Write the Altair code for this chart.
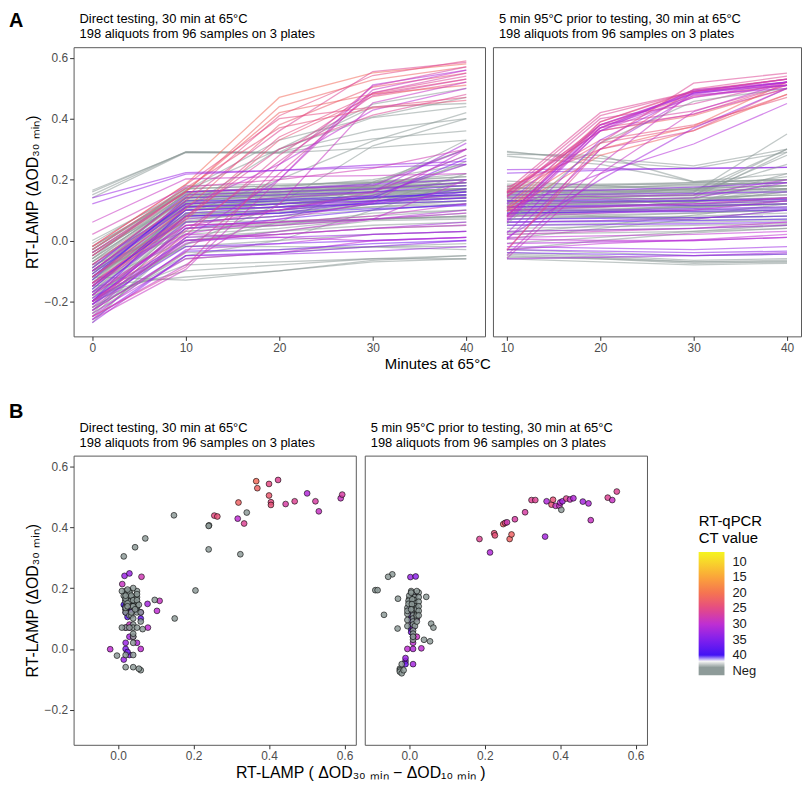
import altair as alt
import pandas as pd

N = "Neg"

MINUTES_DIRECT = [0, 10, 20, 30, 40]
MINUTES_HEAT = [10, 20, 30, 40]

PANEL_TITLES = [
    ["Direct testing, 30 min at 65°C", "198 aliquots from 96 samples on 3 plates"],
    ["5 min 95°C prior to testing, 30 min at 65°C", "198 aliquots from 96 samples on 3 plates"],
]
Y_TITLE = "RT-LAMP (ΔOD₃₀ ₘᵢₙ)"
XA_TITLE = "Minutes at 65°C"
XB_TITLE = "RT-LAMP ( ΔOD₃₀ ₘᵢₙ − ΔOD₁₀ ₘᵢₙ )"
LEGEND_TITLE = ["RT-qPCR", "CT value"]
LEGEND_VALUES = [10, 15, 20, 25, 30, 35, 40, 45]
NEG_CT = 45
Y_TICKS = [-0.2, 0.0, 0.2, 0.4, 0.6]
XB_TICKS = [0.0, 0.2, 0.4, 0.6]

# ---- Direct testing: [CT, OD at 0, 10, 20, 30, 40 min] ----
DIRECT_POS = [
    [21, -0.02, 0.185, 0.47, 0.551, 0.58],
    [22, -0.05, 0.159, 0.44, 0.528, 0.57],
    [25, -0.08, 0.142, 0.41, 0.542, 0.59],
    [26, -0.10, 0.131, 0.36, 0.555, 0.585],
    [23, -0.12, 0.104, 0.38, 0.504, 0.55],
    [25, -0.14, 0.077, 0.34, 0.482, 0.53],
    [24, -0.15, 0.068, 0.33, 0.473, 0.52],
    [22, -0.04, 0.162, 0.42, 0.481, 0.51],
    [27, -0.18, 0.032, 0.26, 0.476, 0.53],
    [26, -0.20, 0.017, 0.28, 0.485, 0.54],
    [31, -0.21, 0.010, 0.20, 0.511, 0.56],
    [27, -0.23, -0.038, 0.22, 0.485, 0.55],
    [29, -0.25, -0.080, 0.12, 0.452, 0.52],
    [29, -0.26, -0.095, 0.20, 0.495, 0.56],
    [27, -0.25, -0.087, 0.25, 0.507, 0.57],
    [30, -0.10, 0.111, 0.25, 0.428, 0.50],
    [26, -0.12, 0.078, 0.30, 0.412, 0.48],
    [25, -0.02, 0.183, 0.40, 0.438, 0.47],
    [24, -0.03, 0.172, 0.37, 0.435, 0.46],
    [29, -0.15, 0.048, 0.10, 0.158, 0.28],
    [30, -0.17, 0.022, 0.07, 0.125, 0.30],
    [30, -0.20, -0.009, 0.03, 0.070, 0.20],
    [30, -0.18, 0.020, 0.01, -0.001, 0.01],
    [33, 0.14, 0.223, 0.23, 0.240, 0.25],
    [33, 0.12, 0.218, 0.23, 0.248, 0.26],
    [28, 0.02, 0.175, 0.20, 0.237, 0.30],
    [29, 0.06, 0.202, 0.21, 0.213, 0.22],
]
DIRECT_OUT = [
    [N, -0.10, 0.107, 0.30, 0.448, 0.50],
    [N, -0.03, 0.165, 0.33, 0.406, 0.47],
    [N, -0.05, 0.164, 0.30, 0.404, 0.44],
    [N, -0.12, 0.087, 0.20, 0.327, 0.42],
    [N, -0.20, -0.013, 0.12, 0.311, 0.40],
    [N, 0.16, 0.291, 0.290, 0.439, 0.45],
    [N, 0.15, 0.291, 0.290, 0.363, 0.40],
    [N, 0.165, 0.289, 0.288, 0.334, 0.36],
    [N, 0.14, 0.289, 0.287, 0.304, 0.33],
    [N, -0.20, -0.013, 0.06, 0.192, 0.30],
    [N, -0.22, -0.050, 0.00, 0.100, 0.20],
    [N, -0.12, 0.064, 0.10, 0.161, 0.25],
    [N, -0.20, -0.019, -0.02, -0.022, -0.03],
]
DIRECT_CLUSTER = [
    [N, -0.05, 0.15, 0.16, 0.18, 0.20],
    [N, -0.08, 0.14, 0.155, 0.17, 0.19],
    [N, -0.10, 0.13, 0.15, 0.17, 0.18],
    [N, -0.12, 0.12, 0.14, 0.16, 0.17],
    [N, -0.02, 0.16, 0.17, 0.19, 0.21],
    [N, -0.15, 0.11, 0.13, 0.15, 0.16],
    [N, -0.18, 0.10, 0.12, 0.14, 0.15],
    [N, -0.06, 0.14, 0.16, 0.19, 0.22],
    [N, -0.09, 0.13, 0.145, 0.16, 0.17],
    [N, -0.11, 0.12, 0.13, 0.14, 0.15],
    [N, -0.13, 0.11, 0.12, 0.13, 0.14],
    [N, -0.04, 0.15, 0.16, 0.17, 0.18],
    [N, -0.07, 0.14, 0.15, 0.16, 0.17],
    [N, -0.16, 0.10, 0.11, 0.12, 0.13],
    [N, -0.20, 0.08, 0.10, 0.13, 0.15],
    [N, -0.01, 0.17, 0.18, 0.19, 0.20],
    [N, -0.03, 0.16, 0.175, 0.20, 0.25],
    [N, -0.10, 0.12, 0.14, 0.17, 0.19],
    [N, -0.14, 0.10, 0.12, 0.15, 0.17],
    [N, -0.17, 0.09, 0.11, 0.14, 0.16],
    [N, -0.22, 0.07, 0.09, 0.12, 0.14],
    [N, -0.19, 0.08, 0.095, 0.11, 0.12],
    [N, -0.12, 0.115, 0.125, 0.135, 0.145],
    [N, -0.08, 0.135, 0.145, 0.155, 0.165],
    [N, 0.00, 0.16, 0.17, 0.18, 0.19],
    [N, -0.05, 0.145, 0.16, 0.175, 0.19],
    [N, -0.11, 0.125, 0.14, 0.155, 0.17],
    [N, -0.15, 0.105, 0.12, 0.14, 0.17],
    [N, -0.21, 0.075, 0.09, 0.11, 0.13],
    [N, -0.24, 0.06, 0.08, 0.10, 0.12],
    [N, -0.02, 0.155, 0.165, 0.185, 0.30],
    [N, -0.06, 0.14, 0.155, 0.175, 0.33],
    [N, -0.09, 0.12, 0.135, 0.16, 0.28],
    [N, -0.13, 0.10, 0.12, 0.14, 0.26],
    [N, -0.18, 0.085, 0.10, 0.12, 0.22],
    [N, -0.25, 0.04, 0.06, 0.08, 0.10],
    [N, -0.27, 0.03, 0.05, 0.07, 0.09],
    [N, -0.23, 0.05, 0.06, 0.07, 0.08],
    [N, -0.20, 0.06, 0.065, 0.07, 0.075],
    [N, -0.12, -0.13, -0.10, -0.07, -0.06],
    [N, -0.15, -0.12, -0.10, -0.065, -0.05],
    [N, -0.18, -0.10, -0.08, -0.06, -0.05],
    [N, -0.20, -0.08, -0.07, -0.06, -0.06],
    [N, -0.22, -0.06, -0.04, -0.02, -0.01],
    [N, -0.24, -0.04, -0.03, -0.02, -0.02],
    [N, -0.17, -0.02, 0.00, 0.02, 0.03],
    [N, -0.14, 0.00, 0.02, 0.04, 0.05],
    [N, -0.10, 0.02, 0.04, 0.07, 0.08],
    [N, -0.26, 0.01, 0.03, 0.05, 0.06],
    [N, -0.19, 0.04, 0.055, 0.07, 0.08],
    [N, -0.07, 0.11, 0.13, 0.16, 0.17],
    [N, -0.04, 0.13, 0.15, 0.18, 0.20],
    [N, -0.16, 0.09, 0.11, 0.145, 0.16],
    [N, -0.13, 0.085, 0.10, 0.13, 0.14],
    [N, -0.10, 0.06, 0.08, 0.12, 0.13],
    [N, -0.08, 0.03, 0.05, 0.09, 0.10],
    [N, -0.21, 0.00, 0.03, 0.065, 0.07],
    [N, -0.11, 0.16, 0.17, 0.175, 0.18],
    [N, -0.03, 0.17, 0.18, 0.195, 0.21],
    [N, -0.06, 0.18, 0.185, 0.19, 0.20],
    [N, -0.09, 0.145, 0.15, 0.165, 0.18],
    [N, -0.14, 0.125, 0.13, 0.15, 0.16],
    [N, -0.07, 0.155, 0.16, 0.175, 0.19],
    [N, -0.17, 0.115, 0.12, 0.14, 0.15],
    [33, -0.12, 0.10, 0.11, 0.13, 0.15],
    [35, -0.15, 0.09, 0.10, 0.125, 0.14],
    [36, -0.18, 0.08, 0.09, 0.128, 0.17],
    [37, -0.20, 0.04, 0.07, 0.10, 0.12],
    [34, -0.17, 0.06, 0.08, 0.12, 0.16],
    [32, -0.14, 0.07, 0.10, 0.148, 0.25],
    [31, -0.21, 0.05, 0.06, 0.07, 0.10],
    [30, -0.20, 0.04, 0.05, 0.07, 0.09],
    [32, -0.23, 0.01, 0.02, 0.04, 0.06],
    [29, -0.22, 0.00, 0.02, 0.04, 0.05],
    [31, -0.25, -0.03, -0.01, 0.02, 0.03],
    [30, -0.24, -0.06, -0.04, 0.00, 0.01],
    [34, -0.26, -0.05, -0.04, -0.02, 0.00],
    [33, -0.27, -0.05, -0.045, -0.035, -0.02],
    [35, -0.21, -0.02, -0.01, 0.00, 0.01],
    [36, -0.23, -0.035, -0.03, -0.01, 0.00],
    [33, -0.19, 0.00, 0.01, 0.02, 0.03],
    [37, -0.16, 0.10, 0.11, 0.12, 0.13],
    [38, -0.10, 0.12, 0.13, 0.14, 0.16],
    [36, -0.13, 0.14, 0.15, 0.16, 0.18],
    [34, -0.09, 0.15, 0.16, 0.17, 0.19],
    [31, -0.05, 0.16, 0.17, 0.18, 0.30],
    [32, -0.08, 0.12, 0.14, 0.16, 0.32],
    [35, -0.11, 0.11, 0.12, 0.14, 0.27],
    [29, -0.14, 0.05, 0.06, 0.08, 0.12],
    [36, -0.20, 0.11, 0.12, 0.13, 0.14],
    [39, -0.12, 0.13, 0.135, 0.145, 0.15],
    [38, -0.15, 0.08, 0.09, 0.105, 0.115],
    [34, -0.04, 0.16, 0.17, 0.185, 0.20],
]

# ---- 5 min 95°C first: [CT, OD at 10, 20, 30, 40 min] ----
HEAT_POS = [
    [26, 0.175, 0.30, 0.361, 0.50],
    [31, 0.103, 0.22, 0.317, 0.45],
    [24, 0.155, 0.33, 0.380, 0.47],
    [24, 0.146, 0.32, 0.373, 0.48],
    [22, 0.161, 0.36, 0.410, 0.50],
    [25, 0.160, 0.37, 0.414, 0.51],
    [28, 0.157, 0.36, 0.416, 0.50],
    [22, 0.095, 0.28, 0.361, 0.48],
    [22, 0.105, 0.30, 0.376, 0.52],
    [27, 0.146, 0.38, 0.426, 0.51],
    [27, 0.142, 0.40, 0.449, 0.52],
    [26, 0.165, 0.42, 0.489, 0.53],
    [26, 0.155, 0.41, 0.489, 0.52],
    [32, 0.009, 0.20, 0.369, 0.50],
    [31, 0.121, 0.38, 0.485, 0.52],
    [24, 0.097, 0.38, 0.474, 0.51],
    [24, 0.109, 0.39, 0.490, 0.53],
    [29, 0.082, 0.37, 0.470, 0.51],
    [29, 0.072, 0.36, 0.470, 0.52],
    [30, 0.081, 0.38, 0.481, 0.52],
    [N, 0.054, 0.32, 0.457, 0.50],
    [32, 0.079, 0.37, 0.485, 0.52],
    [26, 0.078, 0.39, 0.494, 0.53],
    [29, 0.065, 0.37, 0.491, 0.51],
    [31, 0.060, 0.36, 0.495, 0.52],
    [32, 0.024, 0.33, 0.484, 0.51],
    [31, 0.003, 0.30, 0.478, 0.50],
    [29, -0.058, 0.22, 0.423, 0.52],
    [26, -0.029, 0.30, 0.497, 0.54],
    [29, -0.049, 0.25, 0.489, 0.53],
    [26, -0.033, 0.32, 0.517, 0.55],
]
HEAT_OUT = [
    [N, 0.283, 0.28, 0.193, 0.20],
    [N, 0.277, 0.25, 0.193, 0.22],
    [N, 0.290, 0.27, 0.245, 0.30],
    [N, 0.293, 0.26, 0.237, 0.29],
    [N, 0.179, 0.14, 0.112, 0.12],
    [N, 0.098, 0.08, 0.067, 0.07],
    [N, 0.195, 0.18, 0.165, 0.17],
    [33, 0.233, 0.235, 0.236, 0.24],
    [34, 0.221, 0.23, 0.238, 0.24],
    [N, 0.126, 0.15, 0.171, 0.20],
    [N, 0.025, 0.05, 0.083, 0.12],
    [N, 0.006, 0.04, 0.070, 0.10],
    [N, -0.009, 0.01, 0.030, 0.05],
    [N, -0.030, 0.00, 0.025, 0.04],
    [30, -0.030, -0.01, 0.002, 0.02],
    [30, 0.005, 0.00, 0.000, 0.01],
]
HEAT_CLUSTER = [
    [N, 0.15, 0.155, 0.16, 0.17],
    [N, 0.14, 0.145, 0.15, 0.16],
    [N, 0.13, 0.135, 0.14, 0.15],
    [N, 0.12, 0.125, 0.13, 0.14],
    [N, 0.11, 0.115, 0.12, 0.13],
    [N, 0.10, 0.105, 0.11, 0.12],
    [N, 0.09, 0.095, 0.10, 0.11],
    [N, 0.08, 0.085, 0.09, 0.10],
    [N, 0.07, 0.075, 0.08, 0.09],
    [N, 0.16, 0.165, 0.17, 0.18],
    [N, 0.17, 0.175, 0.18, 0.19],
    [N, 0.155, 0.16, 0.17, 0.21],
    [N, 0.145, 0.15, 0.16, 0.25],
    [N, 0.135, 0.14, 0.15, 0.30],
    [N, 0.125, 0.13, 0.14, 0.29],
    [N, 0.115, 0.12, 0.135, 0.22],
    [N, 0.105, 0.11, 0.125, 0.16],
    [N, 0.095, 0.10, 0.115, 0.14],
    [N, 0.085, 0.09, 0.105, 0.13],
    [N, 0.06, 0.065, 0.075, 0.08],
    [N, 0.05, 0.055, 0.06, 0.065],
    [N, 0.04, 0.045, 0.05, 0.055],
    [N, 0.165, 0.165, 0.165, 0.17],
    [N, 0.175, 0.175, 0.175, 0.18],
    [N, 0.185, 0.185, 0.19, 0.20],
    [N, 0.14, 0.14, 0.135, 0.14],
    [N, 0.12, 0.12, 0.115, 0.12],
    [N, 0.10, 0.10, 0.095, 0.10],
    [N, 0.08, 0.078, 0.075, 0.08],
    [N, 0.13, 0.128, 0.125, 0.20],
    [N, 0.16, 0.16, 0.158, 0.35],
    [N, 0.15, 0.15, 0.148, 0.28],
    [N, 0.11, 0.12, 0.13, 0.17],
    [N, 0.09, 0.10, 0.11, 0.13],
    [N, 0.07, 0.08, 0.09, 0.10],
    [N, -0.04, -0.05, -0.065, -0.06],
    [N, -0.045, -0.055, -0.07, -0.065],
    [N, -0.05, -0.06, -0.075, -0.07],
    [N, -0.06, -0.07, -0.08, -0.075],
    [N, -0.055, -0.06, -0.07, -0.07],
    [N, -0.03, -0.04, -0.05, -0.045],
    [N, 0.02, 0.025, 0.03, 0.04],
    [N, 0.03, 0.035, 0.04, 0.05],
    [N, 0.16, 0.17, 0.185, 0.19],
    [N, 0.145, 0.155, 0.17, 0.18],
    [N, 0.13, 0.14, 0.155, 0.165],
    [N, 0.115, 0.125, 0.14, 0.15],
    [N, 0.10, 0.11, 0.125, 0.135],
    [N, 0.085, 0.095, 0.11, 0.12],
    [N, 0.17, 0.18, 0.19, 0.20],
    [N, 0.18, 0.183, 0.185, 0.19],
    [N, 0.155, 0.16, 0.163, 0.30],
    [N, 0.14, 0.143, 0.147, 0.18],
    [N, 0.125, 0.128, 0.13, 0.16],
    [33, 0.12, 0.125, 0.13, 0.14],
    [34, 0.11, 0.115, 0.12, 0.13],
    [35, 0.10, 0.10, 0.105, 0.11],
    [36, 0.09, 0.095, 0.10, 0.105],
    [37, 0.07, 0.073, 0.075, 0.08],
    [38, 0.06, 0.062, 0.065, 0.07],
    [35, 0.05, 0.052, 0.055, 0.06],
    [32, 0.13, 0.135, 0.14, 0.19],
    [31, 0.14, 0.145, 0.15, 0.20],
    [30, 0.08, 0.09, 0.10, 0.13],
    [29, 0.02, 0.03, 0.04, 0.06],
    [32, 0.03, 0.035, 0.04, 0.05],
    [34, -0.03, -0.035, -0.04, -0.035],
    [36, -0.04, -0.045, -0.05, -0.045],
    [33, -0.02, -0.025, -0.03, -0.02],
    [31, -0.01, -0.005, 0.00, 0.01],
    [36, 0.11, 0.112, 0.115, 0.12],
    [38, 0.13, 0.13, 0.13, 0.135],
    [35, 0.15, 0.152, 0.155, 0.16],
    [34, 0.16, 0.165, 0.175, 0.19],
    [30, 0.01, 0.015, 0.02, 0.03],
    [33, 0.06, 0.065, 0.07, 0.10],
    [37, 0.09, 0.093, 0.095, 0.10],
    [32, -0.06, -0.055, -0.05, -0.04],
    [29, 0.10, 0.11, 0.12, 0.14],
]

# colour ramp (CT value -> colour), Neg shown grey below 40
CT_STOPS = [6.8, 10, 15, 20, 25, 30, 35, 40, 42, 43.5, 46.5]
CT_COLORS = ["#f4f41f", "#f8d62b", "#fba43a", "#f57451", "#e54b84", "#bf2fd2",
             "#8120ee", "#4313f4", "#f6f6f6", "#8e9b99", "#8e9b99"]
C_SCALE = alt.Scale(domain=[-c for c in reversed(CT_STOPS)],
                    range=list(reversed(CT_COLORS)), interpolate="rgb")


def build(rows, minutes, tag):
    recs, pts = [], []
    for i, r in enumerate(rows):
        ct = r[0]
        f = -float(NEG_CT) if ct == N else -float(ct)
        vals = dict(zip(minutes, r[1:]))
        lid = f"{tag}{i:03d}"
        for m in minutes:
            recs.append({"id": lid, "minute": m, "od": vals[m], "f": f})
        pts.append({"id": lid, "dx": vals[30] - vals[10], "dy": vals[30], "f": f,
                    "neg": 1 if ct == N else 0})
    pts = pd.DataFrame(pts).sort_values("neg", kind="stable")  # grey (Neg) points drawn last
    return pd.DataFrame(recs), pts


lines_d, pts_d = build(DIRECT_OUT + DIRECT_CLUSTER + DIRECT_POS, MINUTES_DIRECT, "d")
lines_h, pts_h = build(HEAT_OUT + HEAT_CLUSTER + HEAT_POS, MINUTES_HEAT, "h")

FONT = "Liberation Sans"
Y_SCALE = alt.Scale(domain=[-0.315, 0.635], nice=False, zero=False)
XB_SCALE = alt.Scale(domain=[-0.118, 0.63], nice=False, zero=False)
WA_L, WA_R, H = 414, 310, 291
WB = 284


def label(txt, x, y, size=13, weight="normal", baseline="alphabetic"):
    return alt.Chart(pd.DataFrame({"t": [txt]})).mark_text(
        align="left", baseline=baseline, fontSize=size, fontWeight=weight, font=FONT, color="black"
    ).encode(text="t:N", x=alt.value(x), y=alt.value(y))


def header(lines):
    return [label(lines[0], 6, -24), label(lines[1], 6, -9)]


def line_layer(df, xdomain, ticks, xaxis_title, yaxis):
    xaxis = alt.Axis(values=ticks, format="d", title=xaxis_title, titleX=(WA_L + 8 + WA_R) / 2) \
        if xaxis_title else alt.Axis(values=ticks, format="d", title=None)
    return alt.Chart(df).mark_line(strokeWidth=1.3, opacity=0.55).encode(
        x=alt.X("minute:Q", scale=alt.Scale(domain=xdomain, nice=False, zero=False), axis=xaxis),
        y=alt.Y("od:Q", scale=Y_SCALE, axis=yaxis),
        color=alt.Color("f:Q", scale=C_SCALE, legend=None),
        detail="id:N",
    )


YAXIS = alt.Axis(values=Y_TICKS, format=".1f", title=Y_TITLE, titlePadding=4, titleFontSize=16)

a_left = alt.layer(
    line_layer(lines_d, [-2, 42], MINUTES_DIRECT, XA_TITLE, YAXIS),
    label("A", -65, -36, size=20, weight="bold", baseline="top"),
    *header(PANEL_TITLES[0]),
).properties(width=WA_L, height=H)

a_right = alt.layer(
    line_layer(lines_h, [8.5, 41.5], MINUTES_HEAT, None, None),
    *header(PANEL_TITLES[1]),
).properties(width=WA_R, height=H)


def point_layer(df, xtitle, yaxis, legend):
    xaxis = alt.Axis(values=XB_TICKS, format=".1f", title=xtitle, titleX=(WB * 2 + 9) / 2,
                     titleFontSize=16) \
        if xtitle else alt.Axis(values=XB_TICKS, format=".1f", title=None)
    return alt.Chart(df).mark_circle(size=34, stroke="black", strokeWidth=0.7, opacity=1,
                                     fillOpacity=0.85, strokeOpacity=0.85).encode(
        x=alt.X("dx:Q", scale=XB_SCALE, axis=xaxis),
        y=alt.Y("dy:Q", scale=Y_SCALE, axis=yaxis),
        color=alt.Color("f:Q", scale=C_SCALE, legend=legend),
    )


LEGEND = alt.Legend(
    title=LEGEND_TITLE, type="gradient", orient="none", legendX=336, legendY=59,
    direction="vertical", gradientLength=124, gradientThickness=26, gradientStrokeWidth=0,
    values=[-v for v in LEGEND_VALUES],
    labelExpr=f"datum.value <= -{NEG_CT - 1} ? 'Neg' : format(-datum.value, 'd')",
    titleFontSize=15, titleFontWeight="normal", titleColor="black", titleLineHeight=17,
    titlePadding=6, labelFontSize=13, labelColor="#1a1a1a", labelOffset=8,
    labelOverlap=False, titleFont=FONT, labelFont=FONT,
)

b_left = alt.layer(
    point_layer(pts_d, XB_TITLE, YAXIS, None),
    label("B", -65, -54, size=20, weight="bold", baseline="top"),
    *header(PANEL_TITLES[0]),
).properties(width=WB, height=H)

b_right = alt.layer(
    point_layer(pts_h, None, None, LEGEND),
    *header(PANEL_TITLES[1]),
).properties(width=WB, height=H)

row_a = alt.hconcat(a_left, a_right, spacing=8, bounds="flush").resolve_scale(color="independent")
row_b = alt.hconcat(b_left, b_right, spacing=9, bounds="flush").resolve_scale(color="independent")

chart = (
    alt.vconcat(row_a, row_b, spacing=29)
    .resolve_scale(color="independent")
    .properties(padding=0)
    .configure_view(stroke="#5a5a5a", strokeWidth=1)
    .configure_axis(labelFont=FONT, labelFontSize=12, labelColor="#4d4d4d", tickColor="#333333",
                    tickSize=4, tickWidth=1, labelPadding=2, domain=False, grid=False,
                    titleFont=FONT, titleFontSize=15, titleFontWeight="normal", titleColor="black",
                    titlePadding=3)
)

chart.save("out.html", embed_options={"renderer": "svg", "actions": False})
